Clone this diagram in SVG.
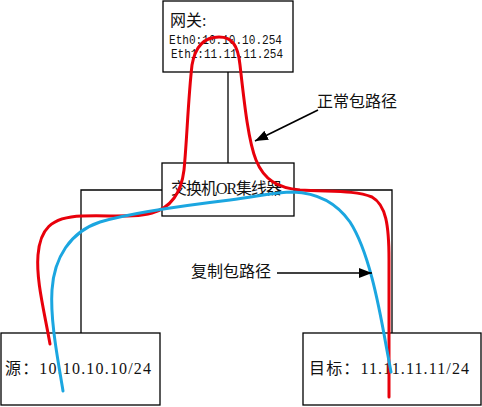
<svg xmlns="http://www.w3.org/2000/svg" width="482" height="407" viewBox="0 0 482 407">
<style>
.box{fill:#fff;stroke:#000;stroke-width:1.3}
.wire{fill:none;stroke:#000;stroke-width:1.3}
.t{font-family:"Liberation Serif","Noto Sans CJK SC",serif;fill:#111;font-size:16px}
.m{font-family:"Liberation Mono","Noto Sans CJK SC",monospace;fill:#111;font-size:13px}
.red{fill:none;stroke:#e8000b;stroke-width:3;stroke-linecap:round}
.blue{fill:none;stroke:#1ba6e0;stroke-width:3;stroke-linecap:round}
.arr{stroke:#000;stroke-width:1.7;fill:none}
</style>
<defs>
<marker id="ah" viewBox="0 0 13 10" refX="13" refY="5" markerWidth="13" markerHeight="10" markerUnits="userSpaceOnUse" orient="auto">
<path d="M0,0 L13,5 L0,10 z" fill="#000"/>
</marker>
</defs>
<rect width="482" height="407" fill="#fff"/>
<g id="connectors">
<line class="wire" x1="228" y1="72" x2="228" y2="163"/>
<polyline class="wire" points="81,333 81,190 162,190"/>
<polyline class="wire" points="294,190 392,190 392,333"/>
</g>
<g id="gateway">
<rect class="box" x="163" y="1" width="130" height="71"/>
<text class="t" x="170" y="26">网关:</text>
<text class="m" x="169" y="44" textLength="113" lengthAdjust="spacingAndGlyphs">Eth0:10.10.10.254</text>
<text class="m" x="171" y="58" textLength="112" lengthAdjust="spacingAndGlyphs">Eth1:11.11.11.254</text>
</g>
<g id="switch">
<rect class="box" x="162" y="163" width="132" height="53"/>
<text class="t" x="171" y="194" textLength="111" lengthAdjust="spacing">交换机OR集线器</text>
</g>
<g id="source">
<rect class="box" x="1" y="333" width="159" height="72"/>
<text class="t" x="5" y="374" textLength="146" lengthAdjust="spacing">源：10.10.10.10/24</text>
</g>
<g id="target">
<rect class="box" x="303" y="333" width="178" height="72"/>
<text class="t" x="309" y="374" textLength="160" lengthAdjust="spacing">目标：11.11.11.11/24</text>
</g>
<g id="paths">
<path class="red" d="M50,344 C44,310 36,280 38,255 C40,230 50,217 82,216 C110,215 135,218 152,213 C170,208 181,195 184,170 C187,140 188,100 192,65 C196,42 208,37 219,37 C232,37 238,45 240,65 C244,100 248,140 256,160 C264,180 278,188 300,190 C330,192 355,190 372,197 C386,205 389,225 389,260 L389,397"/>
<path class="blue" d="M63,391 C58,360 50,320 52,290 C54,258 70,232 100,222 C130,213 180,206 230,200 C260,196 275,192 293,192 C320,193 338,205 350,222 C368,250 378,300 386,345 L391,372"/>
</g>
<g id="labels">
<text class="t" x="317" y="107">正常包路径</text>
<line class="arr" x1="318" y1="110" x2="255" y2="141" marker-end="url(#ah)"/>
<text class="t" x="191" y="277">复制包路径</text>
<line class="arr" x1="277" y1="273" x2="372" y2="273" marker-end="url(#ah)"/>
</g>
</svg>
